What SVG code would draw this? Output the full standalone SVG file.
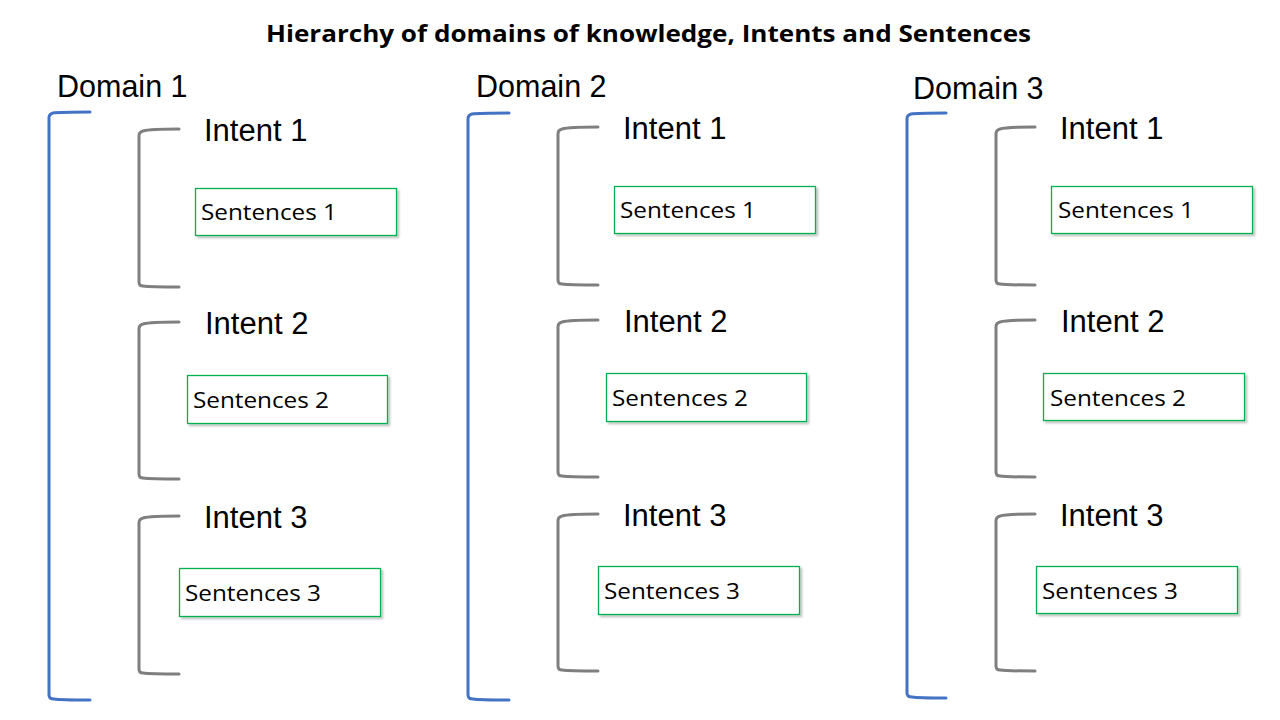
<svg xmlns="http://www.w3.org/2000/svg" width="1280" height="720" viewBox="0 0 1280 720">
<defs>
<filter id="sh" x="-10%" y="-20%" width="130%" height="150%">
<feDropShadow dx="2" dy="2" stdDeviation="1.2" flood-color="#000" flood-opacity="0.25"/>
</filter>
</defs>
<style>
.title{font-family:"Open Sans","Liberation Sans",sans-serif;font-weight:bold;font-size:24px;fill:#000}
.dom{font-family:"Liberation Sans",Arial,sans-serif;font-size:30.5px;fill:#000}
.int{font-family:"Liberation Sans",Arial,sans-serif;font-size:31px;fill:#000}
.sen{font-family:"Open Sans","Liberation Sans",sans-serif;font-size:22px;fill:#000}
.box{fill:#fff;stroke:#00B050;stroke-width:1.3;filter:url(#sh)}
.bd{fill:none;stroke:#4472C4;stroke-width:3;stroke-linecap:round}
.bi{fill:none;stroke:#7F7F7F;stroke-width:3;stroke-linecap:round}
</style>
<rect width="1280" height="720" fill="#fff"/>
<text class="title" x="266" y="42" textLength="765" lengthAdjust="spacingAndGlyphs">Hierarchy of domains of knowledge, Intents and Sentences</text>

<g id="connectors">
<path class="bd" d="M90,112 Q60,112 53,113 Q49,114 49,118 L49,695 Q49,699 54,699 Q60,700 90,700"/>
<path class="bi" d="M179,129 Q150,129 143,131 Q139,132 139,136 L139,282 Q139,286 143,286 Q150,287 179,287"/>
<path class="bi" d="M179,322 Q150,322 143,324 Q139,325 139,329 L139,474 Q139,478 143,478 Q150,479 179,479"/>
<path class="bi" d="M179,516 Q150,516 143,518 Q139,519 139,523 L139,669 Q139,673 143,673 Q150,674 179,674"/>

<path class="bd" d="M509,113 Q479,113 472,114 Q468,115 468,119 L468,695 Q468,699 473,699 Q479,700 509,700"/>
<path class="bi" d="M598,127 Q569,127 562,129 Q558,130 558,134 L558,280 Q558,284 562,284 Q569,285 598,285"/>
<path class="bi" d="M598,320 Q569,320 562,322 Q558,323 558,327 L558,472 Q558,476 562,476 Q569,477 598,477"/>
<path class="bi" d="M598,514 Q569,514 562,516 Q558,517 558,521 L558,666 Q558,670 562,670 Q569,671 598,671"/>

<path class="bd" d="M946,113 Q917,113 911,114 Q907,115 907,119 L907,693 Q907,697 912,697 Q918,698 946,698"/>
<path class="bi" d="M1035,127 Q1006,127 1000,129 Q996,130 996,134 L996,280 Q996,284 1000,284 Q1006,285 1035,285"/>
<path class="bi" d="M1035,320 Q1006,320 1000,322 Q996,323 996,327 L996,472 Q996,476 1000,476 Q1006,477 1035,477"/>
<path class="bi" d="M1035,514 Q1006,514 1000,516 Q996,517 996,521 L996,666 Q996,670 1000,670 Q1006,671 1035,671"/>
</g>

<g id="domain1"><text class="dom" x="57" y="97">Domain 1</text></g>
<g id="d1-intent1"><text class="int" x="204" y="141">Intent 1</text></g>
<g id="d1-intent2"><text class="int" x="205" y="334">Intent 2</text></g>
<g id="d1-intent3"><text class="int" x="204" y="528">Intent 3</text></g>
<g id="d1-sent1"><rect class="box" x="195.5" y="188.5" width="201" height="47"/><text class="sen" x="201" y="220" textLength="136" lengthAdjust="spacingAndGlyphs">Sentences 1</text></g>
<g id="d1-sent2"><rect class="box" x="187.5" y="375.5" width="200" height="48"/><text class="sen" x="193" y="408" textLength="136" lengthAdjust="spacingAndGlyphs">Sentences 2</text></g>
<g id="d1-sent3"><rect class="box" x="179.5" y="568.5" width="201" height="48"/><text class="sen" x="185" y="601" textLength="136" lengthAdjust="spacingAndGlyphs">Sentences 3</text></g>

<g id="domain2"><text class="dom" x="476" y="97">Domain 2</text></g>
<g id="d2-intent1"><text class="int" x="623" y="139">Intent 1</text></g>
<g id="d2-intent2"><text class="int" x="624" y="332">Intent 2</text></g>
<g id="d2-intent3"><text class="int" x="623" y="526">Intent 3</text></g>
<g id="d2-sent1"><rect class="box" x="614.5" y="186.5" width="201" height="47"/><text class="sen" x="620" y="218" textLength="136" lengthAdjust="spacingAndGlyphs">Sentences 1</text></g>
<g id="d2-sent2"><rect class="box" x="606.5" y="373.5" width="200" height="48"/><text class="sen" x="612" y="406" textLength="136" lengthAdjust="spacingAndGlyphs">Sentences 2</text></g>
<g id="d2-sent3"><rect class="box" x="598.5" y="566.5" width="201" height="48"/><text class="sen" x="604" y="599" textLength="136" lengthAdjust="spacingAndGlyphs">Sentences 3</text></g>

<g id="domain3"><text class="dom" x="913" y="99">Domain 3</text></g>
<g id="d3-intent1"><text class="int" x="1060" y="139">Intent 1</text></g>
<g id="d3-intent2"><text class="int" x="1061" y="332">Intent 2</text></g>
<g id="d3-intent3"><text class="int" x="1060" y="526">Intent 3</text></g>
<g id="d3-sent1"><rect class="box" x="1051.5" y="186.5" width="201" height="47"/><text class="sen" x="1058" y="218" textLength="136" lengthAdjust="spacingAndGlyphs">Sentences 1</text></g>
<g id="d3-sent2"><rect class="box" x="1043.5" y="373.5" width="201" height="47"/><text class="sen" x="1050" y="406" textLength="136" lengthAdjust="spacingAndGlyphs">Sentences 2</text></g>
<g id="d3-sent3"><rect class="box" x="1036.5" y="566.5" width="201" height="47"/><text class="sen" x="1042" y="599" textLength="136" lengthAdjust="spacingAndGlyphs">Sentences 3</text></g>
</svg>
